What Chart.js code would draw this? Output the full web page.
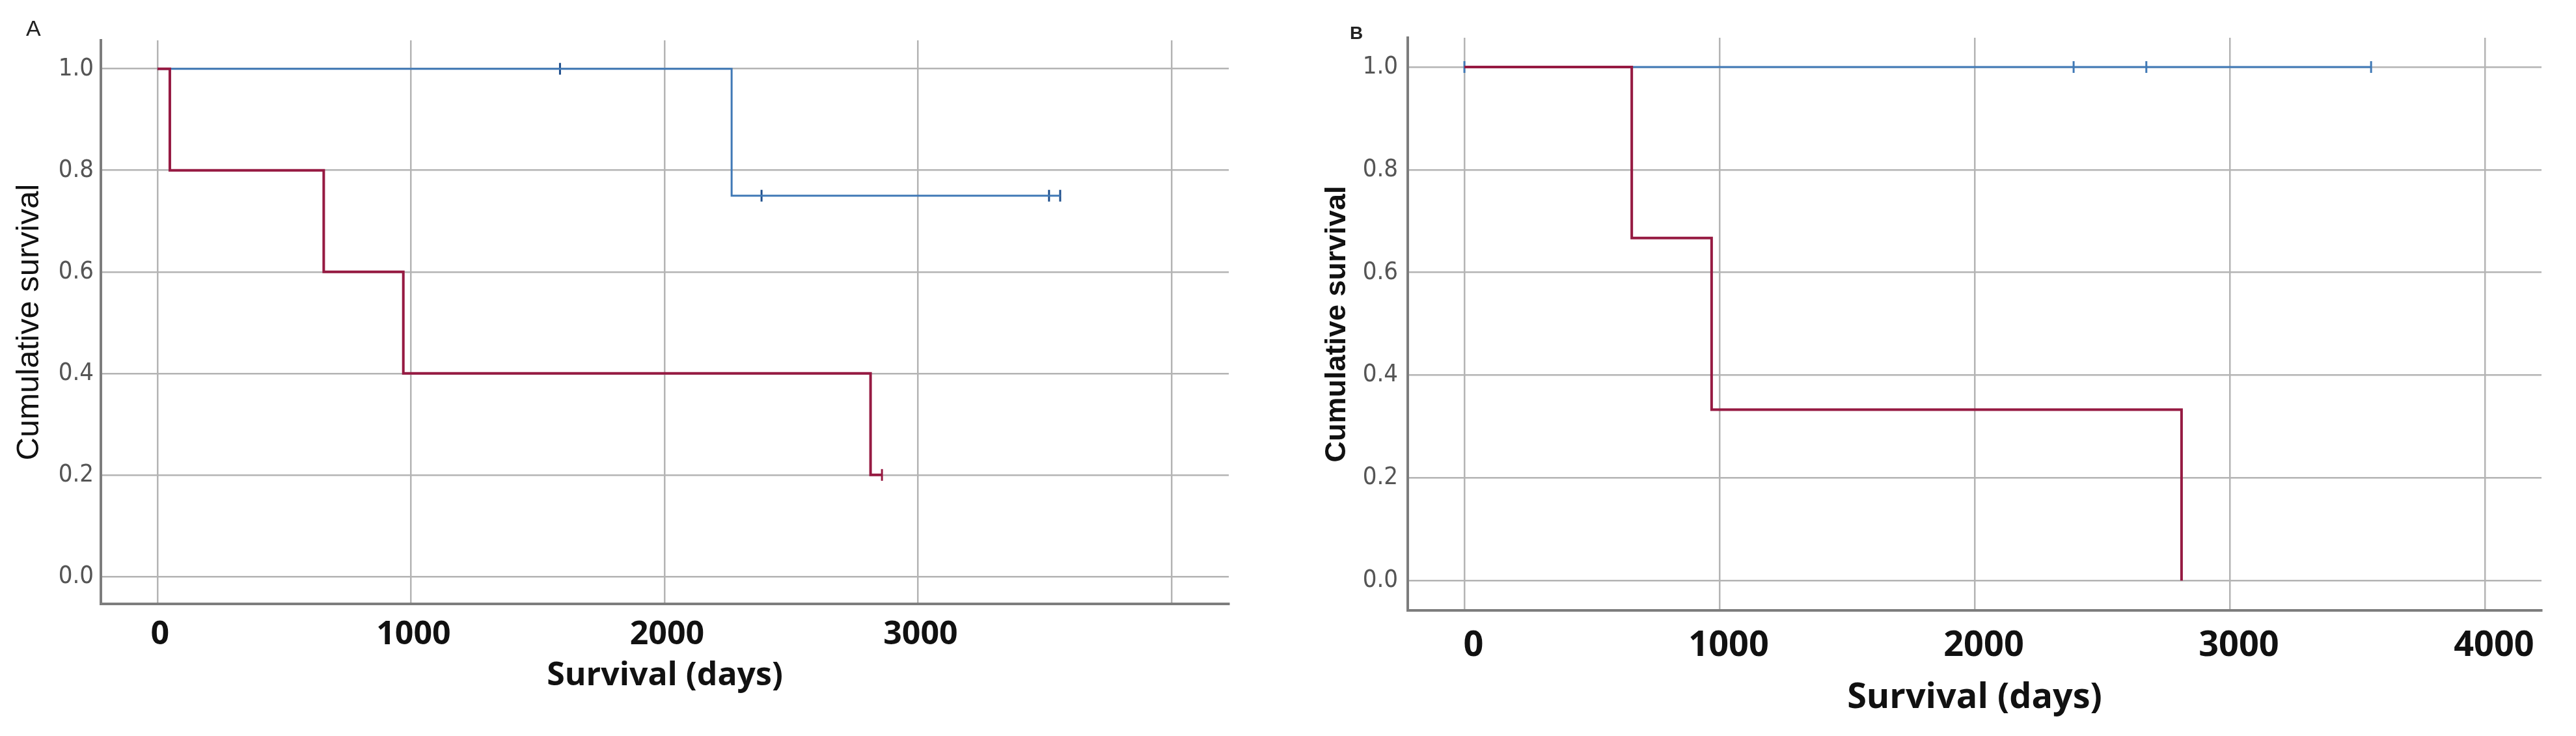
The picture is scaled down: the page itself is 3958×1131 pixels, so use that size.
<!DOCTYPE html>
<html>
<head>
<meta charset="utf-8">
<script src="https://cdn.jsdelivr.net/npm/chart.js@4.4.1/dist/chart.umd.min.js"></script>
<style>
  body { margin: 0; background: #fff; }
  #wrap { position: relative; width: 3958px; height: 1131px; overflow: hidden; }
  canvas { position: absolute; top: 0; }
  #chartA { left: 0; }
  #chartB { left: 1960px; }
  .panel { position: absolute; font-family: "Liberation Sans", Arial, sans-serif; color: #222; }
  #labA { left: 40px; top: 24px; font-size: 34px; }
  #labB { left: 2074px; top: 35px; font-size: 28px; font-weight: bold; }
</style>
</head>
<body>
<div id="wrap">
  <canvas id="chartA" width="1960" height="1131"></canvas>
  <canvas id="chartB" width="1998" height="1131"></canvas>
  <div class="panel" id="labA">A</div>
  <div class="panel" id="labB">B</div>
</div>
<script>
// panel A (days, cumulative survival)
const redTimesA = [0, 49, 656, 970, 2813, 2858];
const redSurvA = [1, 0.8, 0.6, 0.4, 0.2, 0.2];
const redCensorTimesA = [2858];
const redCensorSurvA = [0.2];
const blueTimesA = [0, 2265, 3561];
const blueSurvA = [1, 0.75, 0.75];
const blueCensorTimesA = [1588, 2383, 3517, 3561];
const blueCensorSurvA = [1, 0.75, 0.75, 0.75];

// panel B
const redTimesB = [0, 656, 969, 2811];
const redSurvB = [1, 0.667, 0.333, 0];
const blueTimesB = [0, 3554];
const blueSurvB = [1, 1];
const blueCensorTimesB = [0, 2388, 2673, 3554];
const blueCensorSurvB = [1, 1, 1, 1];

const xTicks = [0, 1000, 2000, 3000, 4000];
const xTickLabelsA = ["0", "1000", "2000", "3000", ""];
const xTickLabelsB = ["0", "1000", "2000", "3000", "4000"];
const yTicks = [0, 0.2, 0.4, 0.6, 0.8, 1.0];

const RED = "#961a42";
const BLUE = "#4079b6";
const BLUE_DARK = "#1f4f8c";

function pts(xs, ys) {
  return xs.map((x, i) => ({ x: x, y: ys[i] }));
}

function curve(xs, ys, color, width) {
  return {
    data: pts(xs, ys),
    borderColor: color,
    borderWidth: width,
    stepped: "before",
    pointRadius: 0,
    fill: false
  };
}

function censors(xs, ys, color) {
  return {
    data: pts(xs, ys),
    showLine: false,
    pointStyle: "line",
    rotation: 90,
    pointRadius: 9,
    pointBorderWidth: 3,
    pointBorderColor: color,
    pointBackgroundColor: color
  };
}

function makeChart(id, o) {
  return new Chart(document.getElementById(id), {
    type: "line",
    data: { datasets: o.datasets },
    options: {
      responsive: false,
      animation: false,
      events: [],
      layout: { padding: o.padding },
      plugins: { legend: { display: false }, tooltip: { enabled: false } },
      scales: {
        x: {
          type: "linear",
          min: o.xMin, max: o.xMax,
          afterBuildTicks: s => { s.ticks = xTicks.map(v => ({ value: v })); },
          afterFit: s => { s.height = o.xHeight; },
          grid: { color: "#b4b4b4", lineWidth: 2.5, drawTicks: false },
          border: { color: "#7d7d7d", width: 4 },
          ticks: {
            padding: o.xTickPad,
            labelOffset: o.xLabelOffset,
            color: "#111",
            font: { family: "'Open Sans', sans-serif", weight: "bold", size: o.xFont },
            callback: (v, i) => o.xLabels[i]
          },
          title: {
            display: true,
            text: "Survival (days)",
            color: "#111",
            padding: { top: 0, bottom: 0 },
            font: { family: "'Open Sans', sans-serif", weight: "bold", size: o.xFont }
          }
        },
        y: {
          min: o.yMin, max: o.yMax,
          afterBuildTicks: s => { s.ticks = yTicks.map(v => ({ value: v })); },
          afterFit: s => { s.width = o.yWidth; },
          grid: { color: "#b4b4b4", lineWidth: 2.5, drawTicks: false },
          border: { color: "#7d7d7d", width: 4 },
          ticks: {
            padding: o.yTickPad,
            color: "#555",
            font: { family: "'Liberation Sans Narrow', 'DejaVu Sans Condensed', sans-serif", size: 38 },
            callback: v => v.toFixed(1)
          },
          title: {
            display: true,
            text: "Cumulative survival",
            color: "#111",
            padding: { top: o.yTitlePad, bottom: 0 },
            font: { family: "'Liberation Sans', Arial, sans-serif", weight: o.yTitleWeight, size: o.yTitleSize }
          }
        }
      }
    }
  });
}

makeChart("chartA", {
  datasets: [
    curve(redTimesA, redSurvA, RED, 4),
    censors(redCensorTimesA, redCensorSurvA, RED),
    curve(blueTimesA, blueSurvA, BLUE, 3),
    censors(blueCensorTimesA, blueCensorSurvA, BLUE_DARK)
  ],
  padding: { top: 62, right: 72, left: 0, bottom: 62 },
  xMin: -223, xMax: 4226, yMin: -0.054, yMax: 1.056,
  xHeight: 141, yWidth: 155,
  xTickPad: 18, xLabelOffset: 4, xFont: 50, xLabels: xTickLabelsA,
  yTickPad: 11, yTitlePad: 16, yTitleSize: 49, yTitleWeight: "normal"
});

makeChart("chartB", {
  datasets: [
    curve(redTimesB, redSurvB, RED, 4),
    curve(blueTimesB, blueSurvB, BLUE, 3),
    censors(blueCensorTimesB, blueCensorSurvB, BLUE)
  ],
  padding: { top: 58, right: 53, left: 0, bottom: 26 },
  xMin: -222, xMax: 4222, yMin: -0.058, yMax: 1.057,
  xHeight: 167, yWidth: 203,
  xTickPad: 22, xLabelOffset: 14, xFont: 54, xLabels: xTickLabelsB,
  yTickPad: 15, yTitlePad: 68, yTitleSize: 45, yTitleWeight: "bold"
});
</script>
</body>
</html>
